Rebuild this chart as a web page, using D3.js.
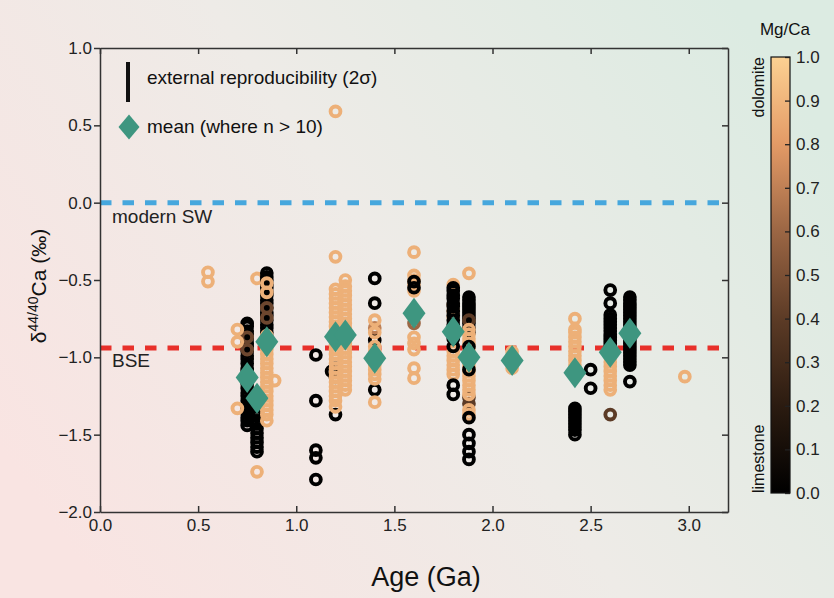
<!DOCTYPE html>
<html><head><meta charset="utf-8">
<script src="https://cdn.jsdelivr.net/npm/d3@7"></script>
<style>body{margin:0;background:#fff;} svg{display:block;font-family:"Liberation Sans",Arial,sans-serif;}</style>
</head><body><svg id="c" width="834" height="598"></svg>
<script>
// ---- data ----
const xTicks = [0, 0.5, 1.0, 1.5, 2.0, 2.5, 3.0];
const yTicks = [1.0, 0.5, 0.0, -0.5, -1.0, -1.5, -2.0];
const cbTicks = [0, 0.1, 0.2, 0.3, 0.4, 0.5, 0.6, 0.7, 0.8, 0.9, 1.0];
const modernSW = 0.0;
const bse = -0.94;
// sample columns: age (Ga), Mg/Ca, d44/40Ca values (drawn in this order)
const colAge = [0.55, 0.75, 0.75, 0.70, 0.80, 0.80, 0.85, 0.85, 0.85, 0.89,
  1.10, 1.20, 1.18, 1.20, 1.25,
  1.40, 1.40, 1.40, 1.60, 1.60, 1.60,
  1.80, 1.80, 1.88, 1.88, 1.88, 1.88,
  2.10, 2.42, 2.42, 2.50, 2.60, 2.60, 2.60, 2.70, 2.98];
const colMg = [0.88, 0.0, 0.45, 0.88, 0.0, 0.88, 0.0, 0.45, 0.88, 0.88,
  0.0, 0.0, 0.0, 0.88, 0.88,
  0.0, 0.7, 0.88, 0.88, 0.0, 0.6,
  0.88, 0.0, 0.0, 0.4, 0.88, 0.0,
  0.88, 0.88, 0.0, 0.0, 0.0, 0.88, 0.4, 0.0, 0.88];
const colValues = [
  [-0.45, -0.51],
  [-0.78, -0.80, -0.83, -0.85, -0.88, -0.91, -0.93, -0.96, -0.99, -1.01, -1.04, -1.07, -1.09, -1.12, -1.15, -1.17, -1.20, -1.23, -1.25, -1.28, -1.31, -1.33, -1.36, -1.39, -1.41, -1.44],
  [-0.87, -0.95],
  [-0.82, -0.90, -1.33],
  [-1.24, -1.27, -1.30, -1.32, -1.35, -1.38, -1.41, -1.43, -1.46, -1.49, -1.52, -1.55, -1.58, -1.61],
  [-0.49, -1.74],
  [-0.455, -0.48, -0.50, -0.53, -0.55, -0.58, -0.60, -0.63, -0.65, -0.68, -0.71, -0.73, -0.76, -0.79, -0.81, -0.84, -0.87, -0.90],
  [-0.68, -0.745],
  [-0.52, -0.58, -0.86, -0.89, -0.92, -0.95, -0.98, -1.01, -1.04, -1.07, -1.10, -1.13, -1.16, -1.19, -1.22, -1.25, -1.28, -1.31, -1.34, -1.37, -1.41],
  [-1.15],
  [-0.985, -1.28, -1.60, -1.65, -1.79],
  [-1.07, -1.13, -1.37],
  [-1.09],
  [0.59, -0.35, -0.56, -0.59, -0.62, -0.65, -0.68, -0.71, -0.74, -0.77, -0.80, -0.83, -0.86, -0.89, -0.92, -0.95, -0.98, -1.01, -1.04, -1.07, -1.10, -1.13, -1.16, -1.19, -1.22, -1.25, -1.28, -1.32],
  [-0.50, -0.54, -0.57, -0.60, -0.63, -0.66, -0.69, -0.72, -0.75, -0.78, -0.81, -0.84, -0.88, -0.91, -0.94, -0.97, -1.00, -1.03, -1.06, -1.09, -1.12, -1.15, -1.18, -1.21],
  [-0.49, -0.65, -0.89, -1.21],
  [-0.81],
  [-0.76, -0.84, -0.93, -0.96, -0.99, -1.02, -1.05, -1.08, -1.11, -1.14, -1.29],
  [-0.32, -0.47, -0.50, -0.53, -0.57, -0.87, -0.91, -0.95, -1.07, -1.135],
  [-0.51, -0.55],
  [-0.78],
  [-0.53, -0.66, -0.70, -0.74, -0.96, -0.99, -1.02, -1.05, -1.08, -1.11],
  [-0.55, -0.57, -0.60, -0.62, -0.65, -0.67, -0.70, -0.73, -0.76, -0.79, -0.82, -0.85, -0.88, -0.93, -1.18, -1.24],
  [-0.61, -0.63, -0.65, -0.67, -0.69, -0.71, -0.73, -0.75, -0.78, -0.81, -0.84],
  [-0.76, -1.26, -1.30],
  [-0.457, -0.82, -0.85, -0.88, -0.91, -0.94, -0.97, -1.00, -1.03, -1.06, -1.09, -1.12, -1.15, -1.18, -1.21, -1.24, -1.34, -1.37],
  [-0.93, -1.08, -1.39, -1.50, -1.556, -1.61, -1.66],
  [-0.965, -1.07],
  [-0.75, -0.82, -0.84, -0.87, -0.90, -0.93, -0.96, -0.99, -1.02, -1.05, -1.08, -1.11],
  [-1.33, -1.35, -1.37, -1.39, -1.41, -1.43, -1.45, -1.47, -1.50],
  [-1.08, -1.20],
  [-0.565, -0.65, -0.726, -0.75, -0.77, -0.79, -0.81, -0.83, -0.85, -0.87, -0.89, -0.91, -0.93, -0.95, -0.97, -0.99],
  [-1.00, -1.03, -1.06, -1.09, -1.12, -1.15, -1.18, -1.21],
  [-1.37],
  [-0.61, -0.63, -0.65, -0.67, -0.69, -0.71, -0.73, -0.75, -0.77, -0.79, -0.81, -0.83, -0.85, -0.87, -0.89, -0.91, -0.93, -0.95, -0.97, -0.99, -1.01, -1.03, -1.05, -1.157],
  [-1.125]
];
const meanAge = [0.75, 0.80, 0.85, 1.20, 1.25, 1.40, 1.60, 1.80, 1.88, 2.10, 2.42, 2.60, 2.70];
const meanVal = [-1.13, -1.265, -0.90, -0.867, -0.856, -1.006, -0.715, -0.834, -1.0, -1.02, -1.10, -0.967, -0.845];
const cbStops = [0, 0.2, 0.4, 0.6, 0.8, 1.0];
const cbColors = ['#000000', '#2b1b10', '#5c3b26', '#9b6644', '#e39a66', '#fcd192'];

// ---- drawing ----
const svg = d3.select('#c');
const defs = svg.append('defs');
const bg = defs.append('linearGradient').attr('id', 'bg')
  .attr('x1', 0).attr('y1', 0.75).attr('x2', 1).attr('y2', 0.25);
bg.append('stop').attr('offset', '0%').attr('stop-color', '#f9e4e2');
bg.append('stop').attr('offset', '50%').attr('stop-color', '#eeebe7');
bg.append('stop').attr('offset', '100%').attr('stop-color', '#dcebe2');
svg.append('rect').attr('width', 834).attr('height', 598).attr('fill', 'url(#bg)');

const x = d3.scaleLinear().domain([0, 3.2]).range([100, 728]);
const y = d3.scaleLinear().domain([-2, 1]).range([512, 48]);
const color = d3.scaleLinear().domain(cbStops).range(cbColors);
const fmt = d3.format('.1f');

// reference lines
svg.append('line').attr('x1', x(0)).attr('x2', x(3.2)).attr('y1', y(modernSW)).attr('y2', y(modernSW))
  .attr('stroke', '#46a7dd').attr('stroke-width', 5).attr('stroke-dasharray', '11.5,11');
svg.append('line').attr('x1', x(0)).attr('x2', x(3.2)).attr('y1', y(bse)).attr('y2', y(bse))
  .attr('stroke', '#e8302a').attr('stroke-width', 5).attr('stroke-dasharray', '11.5,11');
svg.append('text').attr('x', 112).attr('y', y(modernSW) + 20).attr('font-size', 19).attr('fill', '#222').text('modern SW');
svg.append('text').attr('x', 112).attr('y', y(bse) + 19).attr('font-size', 19).attr('fill', '#222').text('BSE');

// points
const pts = [];
colValues.forEach((vals, i) => vals.forEach(v => pts.push({age: colAge[i], mg: colMg[i], v})));
svg.append('g').selectAll('circle').data(pts).join('circle')
  .attr('cx', d => x(d.age)).attr('cy', d => y(d.v)).attr('r', 4.9)
  .attr('fill', 'none').attr('stroke', d => color(d.mg)).attr('stroke-width', 3.9);

// means
const dia = 'M0,-15.5L11.5,0L0,15.5L-11.5,0Z';
svg.append('g').selectAll('path').data(meanAge.map((a, i) => [a, meanVal[i]])).join('path')
  .attr('d', dia).attr('transform', d => `translate(${x(d[0])},${y(d[1])})`)
  .attr('fill', '#3e9680');

// axes
function styleAxis(g) {
  g.select('.domain').attr('stroke', '#333').attr('stroke-width', 1.5);
  g.selectAll('.tick line').attr('stroke', '#333').attr('stroke-width', 1.5);
  g.selectAll('.tick text').attr('fill', '#222').attr('font-size', 17).attr('font-family', '"Liberation Sans",Arial,sans-serif');
}
svg.append('g').attr('transform', 'translate(0,512)')
  .call(d3.axisBottom(x).tickValues(xTicks).tickFormat(fmt).tickSizeInner(-6).tickSizeOuter(0).tickPadding(7)).call(styleAxis);
svg.append('g').attr('transform', 'translate(0,48)')
  .call(d3.axisTop(x).tickValues(xTicks).tickFormat('').tickSizeInner(-6).tickSizeOuter(0)).call(styleAxis);
svg.append('g').attr('transform', 'translate(100,0)')
  .call(d3.axisLeft(y).tickValues(yTicks).tickFormat(fmt).tickSizeInner(6).tickSizeOuter(0).tickPadding(2)).call(styleAxis);
svg.append('g').attr('transform', 'translate(728,0)')
  .call(d3.axisRight(y).tickValues(yTicks).tickFormat('').tickSizeInner(-6).tickSizeOuter(0)).call(styleAxis);

// axis titles
svg.append('text').attr('x', 426).attr('y', 586).attr('text-anchor', 'middle')
  .attr('font-size', 27).attr('fill', '#111').text('Age (Ga)');
const yl = svg.append('text').attr('transform', 'translate(46,286) rotate(-90)')
  .attr('text-anchor', 'middle').attr('font-size', 21).attr('fill', '#111');
yl.append('tspan').text('δ');
yl.append('tspan').attr('font-size', 14).attr('dy', -8).text('44/40');
yl.append('tspan').attr('dy', 8).text('Ca (‰)');

// legend
svg.append('line').attr('x1', 128).attr('x2', 128).attr('y1', 62).attr('y2', 102)
  .attr('stroke', '#111').attr('stroke-width', 4);
svg.append('text').attr('x', 147).attr('y', 84).attr('font-size', 19).attr('fill', '#111')
  .text('external reproducibility (2σ)');
svg.append('path').attr('d', 'M0,-12.5L10.5,0L0,12.5L-10.5,0Z').attr('transform', 'translate(129,127)').attr('fill', '#3e9680');
svg.append('text').attr('x', 147).attr('y', 133).attr('font-size', 19).attr('fill', '#111')
  .text('mean (where n > 10)');

// colorbar
const cb = d3.scaleLinear().domain([0, 1]).range([493, 57]);
const cg = defs.append('linearGradient').attr('id', 'cbg').attr('x1', 0).attr('y1', 1).attr('x2', 0).attr('y2', 0);
cbStops.forEach((s, i) => cg.append('stop').attr('offset', (s * 100) + '%').attr('stop-color', cbColors[i]));
svg.append('rect').attr('x', 771).attr('y', 57).attr('width', 19).attr('height', 436)
  .attr('fill', 'url(#cbg)').attr('stroke', '#111').attr('stroke-width', 1.2);
const cax = svg.append('g').attr('transform', 'translate(790,0)')
  .call(d3.axisRight(cb).tickValues(cbTicks).tickFormat(fmt).tickSizeInner(-5).tickSizeOuter(0).tickPadding(6));
cax.select('.domain').remove();
cax.selectAll('.tick line').attr('stroke', '#222').attr('stroke-width', 1.3);
cax.selectAll('.tick text').attr('fill', '#222').attr('font-size', 17).attr('font-family', '"Liberation Sans",Arial,sans-serif');
svg.append('text').attr('x', 785).attr('y', 35).attr('text-anchor', 'middle').attr('font-size', 17).attr('fill', '#111').text('Mg/Ca');
svg.append('text').attr('transform', 'translate(764,57) rotate(-90)').attr('text-anchor', 'end')
  .attr('font-size', 16).attr('fill', '#111').text('dolomite');
svg.append('text').attr('transform', 'translate(764,493) rotate(-90)').attr('text-anchor', 'start')
  .attr('font-size', 16).attr('fill', '#111').text('limestone');
</script></body></html>
